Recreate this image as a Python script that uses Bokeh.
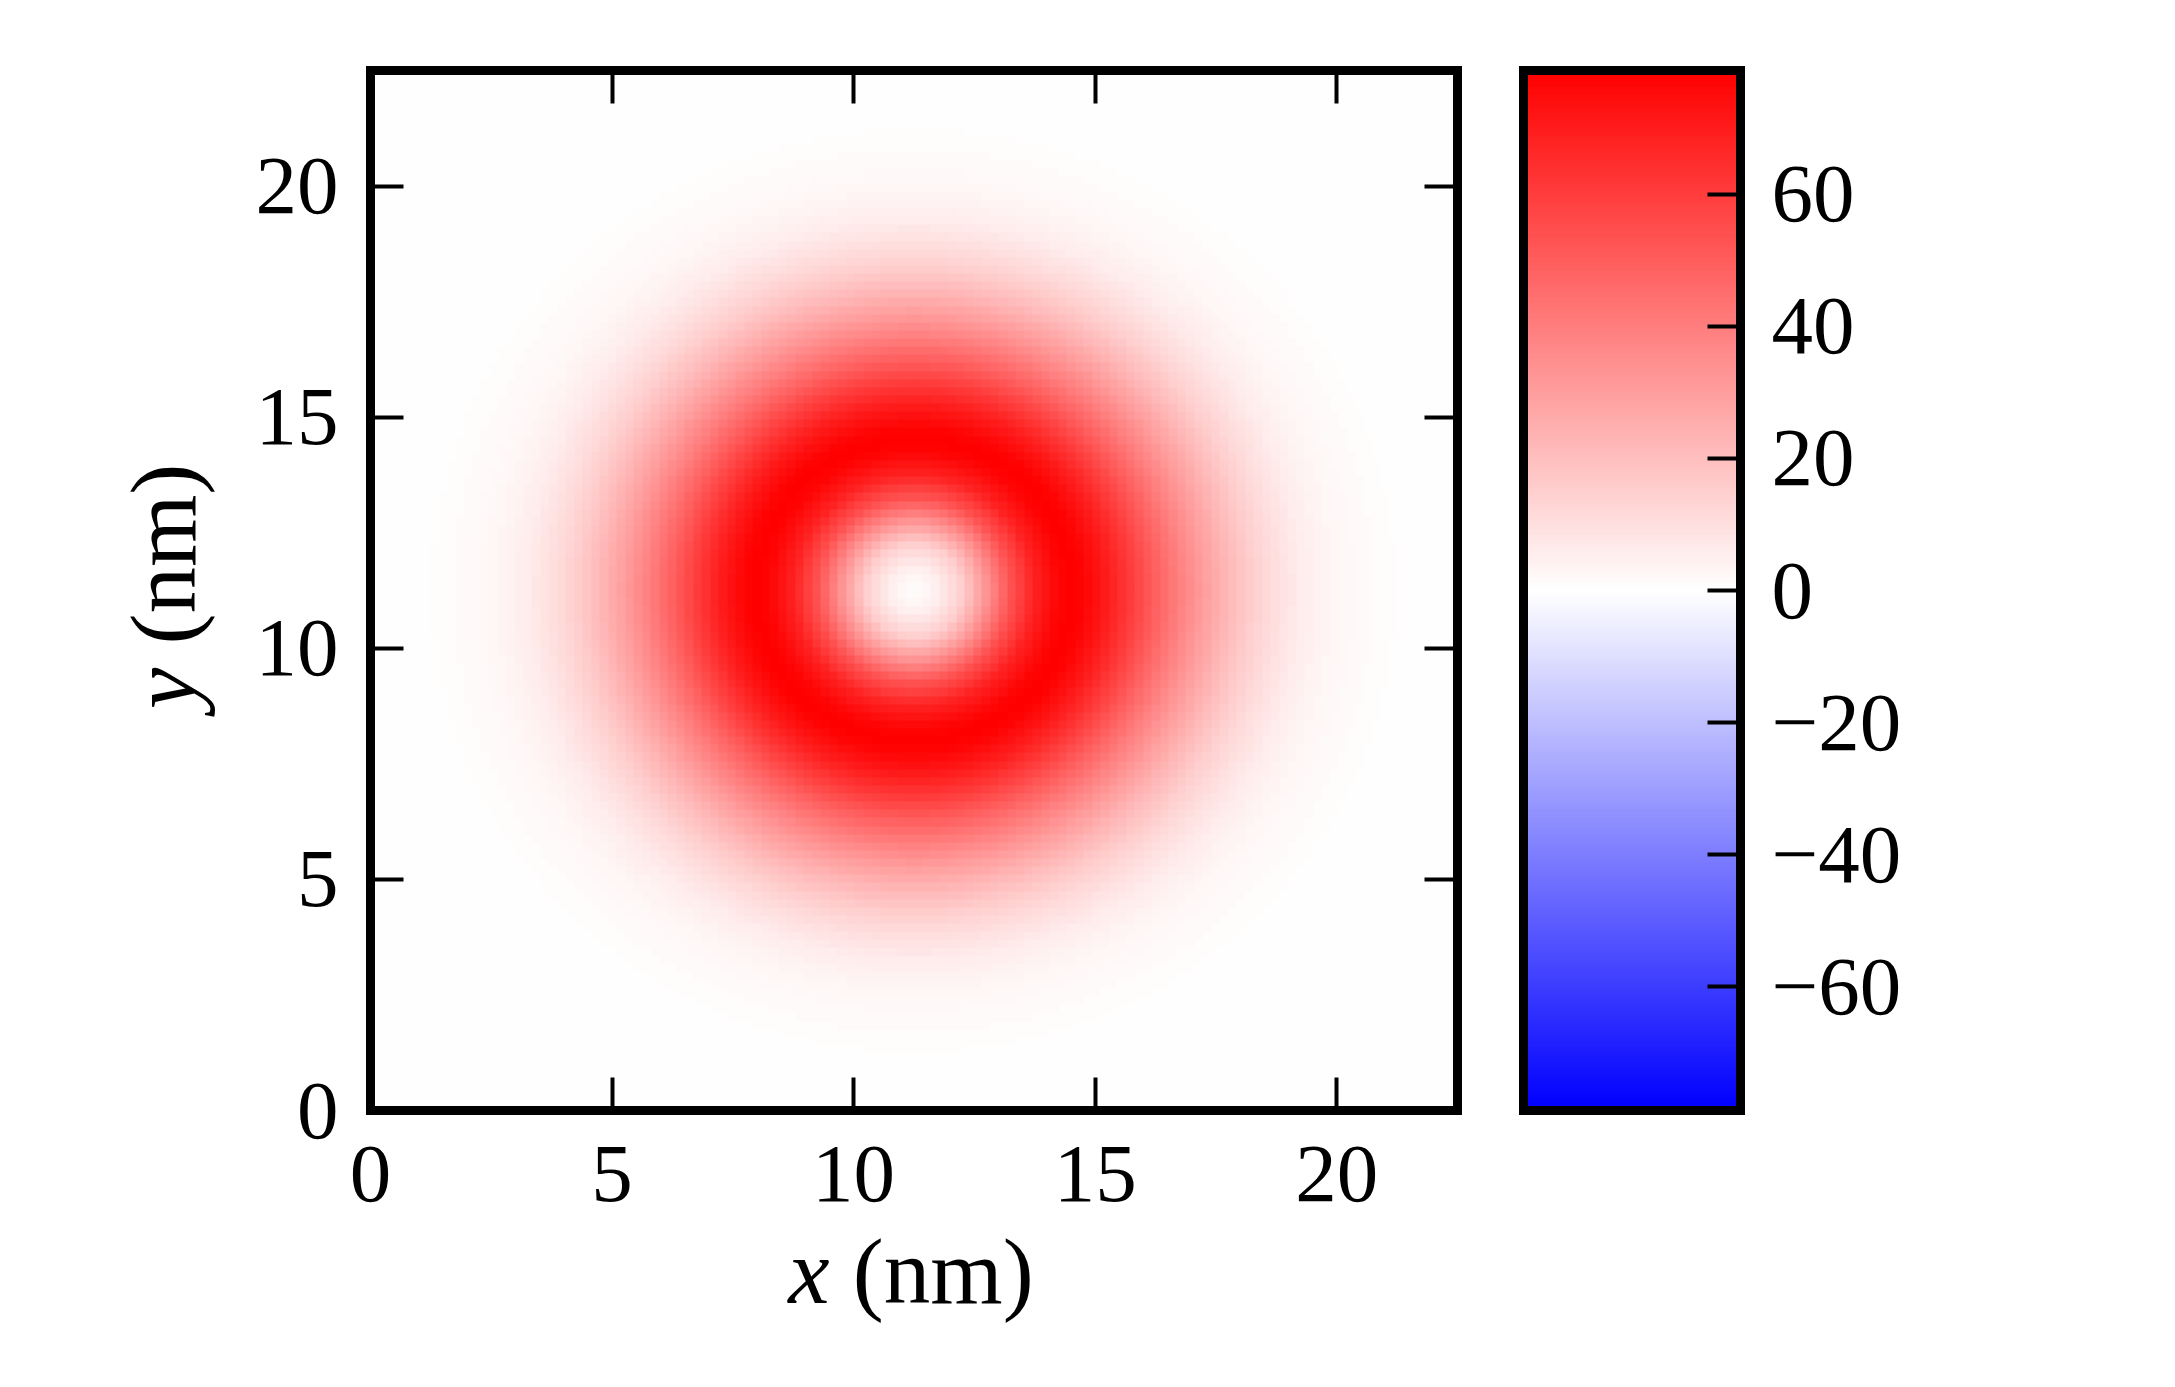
import numpy as np
from bokeh.plotting import figure
from bokeh.models import Range1d, FixedTicker, LinearAxis, LinearColorMapper, Div
from bokeh.layouts import row, column
from bokeh.embed import file_html
from bokeh.resources import INLINE

# ---- data ----
# radial profile of the ring (distance from the ring centre in nm -> value)
radius_nm = [0.0, 0.5, 1.0, 1.5, 2.0, 2.5, 3.0, 3.25, 3.5, 4.0, 4.5, 5.0, 5.5,
             6.0, 6.5, 7.0, 7.5, 8.0, 8.5, 9.0, 10.0, 11.0, 16.0]
ring_value = [0.0, 5.0, 15.0, 33.0, 53.0, 68.0, 77.0, 78.7, 77.5, 70.0, 60.0, 49.0, 39.0,
              30.0, 22.0, 15.0, 10.0, 6.0, 3.5, 2.0, 0.6, 0.0, 0.0]
centre_nm = [11.25, 11.25]
extent_nm = 22.5
cells = 128
x_ticks = [0, 5, 10, 15, 20]
y_ticks = [0, 5, 10, 15, 20]
cbar_ticks = [-60, -40, -20, 0, 20, 40, 60]
cbar_labels = ["\u221260", "\u221240", "\u221220", "0", "20", "40", "60"]
vmax = 78.7
x_title = ("x", "(nm)")
y_title = ("y", "(nm)")

FONT = "Liberation Serif"
FS = "83px"
TITLE_PX = 93
LINE_W = 9
TICK_LEN = 33
TICK_W = 4

TOP = 70
FRAME_H = 1040
BOTTOM = 135
FIG_H = TOP + FRAME_H + BOTTOM
YDIV_W = 230


def bwr_palette(n=256):
    cols = []
    for i in range(n):
        t = i / (n - 1)
        if t < 0.5:
            s = t / 0.5
            r, g, b = s, s, 1.0
        else:
            s = (t - 0.5) / 0.5
            r, g, b = 1.0, 1.0 - s, 1.0 - s
        cols.append("#%02x%02x%02x" % (round(r * 255), round(g * 255), round(b * 255)))
    return cols


mapper = LinearColorMapper(palette=bwr_palette(), low=-vmax, high=vmax)

# field on the grid, built from the read radial profile
step = extent_nm / cells
coords = (np.arange(cells) + 0.5) * step
gx, gy = np.meshgrid(coords, coords)
rr = np.hypot(gx - centre_nm[0], gy - centre_nm[1])
field = np.interp(rr, radius_nm, ring_value)


def style_axis(ax, ticks, show_labels=True, standoff=0):
    if ticks:
        ax.ticker = FixedTicker(ticks=ticks)
        ax.major_tick_in = TICK_LEN
        ax.major_tick_line_width = TICK_W
        ax.major_tick_line_color = "black"
    else:
        ax.ticker = FixedTicker(ticks=[])
        ax.major_tick_line_color = None
    ax.major_tick_out = 0
    ax.minor_tick_line_color = None
    ax.axis_line_color = "black"
    ax.axis_line_width = LINE_W
    ax.axis_line_cap = "square"
    if show_labels:
        ax.major_label_text_font = FONT
        ax.major_label_text_font_size = FS
        ax.major_label_text_color = "black"
        ax.major_label_standoff = standoff
    else:
        ax.major_label_text_color = None
        ax.major_label_text_font_size = "1px"
        ax.major_label_standoff = 0


p = figure(frame_width=1087, frame_height=FRAME_H,
           min_border_left=370 - YDIV_W, min_border_right=33,
           min_border_top=TOP, min_border_bottom=BOTTOM,
           x_range=Range1d(0, extent_nm), y_range=Range1d(0, extent_nm),
           output_backend="svg", toolbar_location=None, tools="")
p.grid.visible = False
p.background_fill_color = "white"
p.border_fill_color = "white"
p.outline_line_color = None

p.image(image=[field], x=0, y=0, dw=extent_nm, dh=extent_nm, color_mapper=mapper)

style_axis(p.xaxis[0], x_ticks, standoff=36)
style_axis(p.yaxis[0], y_ticks, standoff=32)
top_ax = LinearAxis()
style_axis(top_ax, x_ticks, show_labels=False)
p.add_layout(top_ax, "above")
right_ax = LinearAxis()
style_axis(right_ax, y_ticks, show_labels=False)
p.add_layout(right_ax, "right")

# ---- colour bar ----
c = figure(frame_width=217, frame_height=FRAME_H,
           min_border_left=33, min_border_right=10,
           min_border_top=TOP, min_border_bottom=BOTTOM,
           x_range=Range1d(0, 1), y_range=Range1d(-vmax, vmax),
           x_axis_location=None, y_axis_location="right",
           output_backend="svg", toolbar_location=None, tools="")
c.grid.visible = False
c.outline_line_color = None
levels = np.linspace(-vmax, vmax, 512).reshape(-1, 1)
c.image(image=[levels], x=0, y=-vmax, dw=1, dh=2 * vmax, color_mapper=mapper)
style_axis(c.yaxis[0], cbar_ticks, standoff=31)
c.yaxis[0].major_label_overrides = {t: s for t, s in zip(cbar_ticks, cbar_labels)}
for side in ("left", "above", "below"):
    ax = LinearAxis()
    style_axis(ax, [], show_labels=False)
    c.add_layout(ax, side)

# ---- axis titles (italic variable, upright unit) as HTML text ----
asc = 0.838 * TITLE_PX  # baseline offset inside a line box of line-height 1
title_w = 2.638 * TITLE_PX
font_css = ("font-family:'Liberation Serif';font-size:%dpx;line-height:1;"
            "white-space:nowrap;color:black;" % TITLE_PX)

xl = 911 - title_w / 2
xt = 1303 - FIG_H - asc
xdiv = Div(width=2000, height=110, margin=0, styles={"overflow": "visible"},
           text=('<div style="position:relative;width:2000px;height:110px;overflow:visible;">'
                 '<div style="position:absolute;left:%.1fpx;top:%.1fpx;%s">'
                 '<i>%s</i> %s</div></div>') % (xl, xt, font_css, x_title[0], x_title[1]))

ya = 195 - asc
yb = 586 + title_w / 2
ydiv = Div(width=YDIV_W, height=FIG_H, margin=0, styles={"overflow": "visible"},
           text=('<div style="position:relative;width:%dpx;height:%dpx;">'
                 '<div style="position:absolute;left:%.1fpx;top:%.1fpx;'
                 'transform:rotate(-90deg);transform-origin:0 0;%s">'
                 '<i>%s</i> %s</div></div>') % (YDIV_W, FIG_H, ya, yb, font_css, y_title[0], y_title[1]))

layout = column(row(ydiv, p, c), xdiv)
open("out.html", "w").write(file_html(layout, INLINE))
